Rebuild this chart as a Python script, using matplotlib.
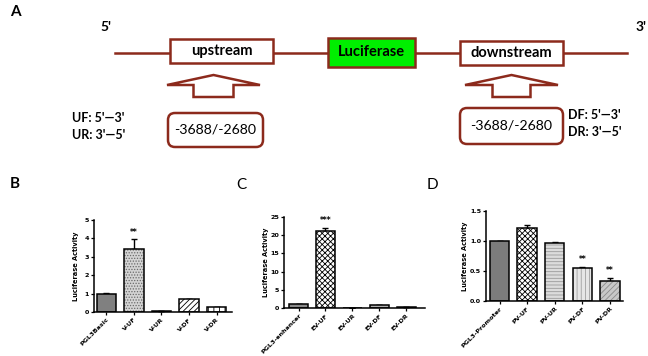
import matplotlib
matplotlib.use("Agg")
import matplotlib.pyplot as plt
from matplotlib.patches import Rectangle, FancyBboxPatch, Polygon

# bar chart data
b_labels = ["PGL3Basic", "V-UF", "V-UR", "V-DF", "V-DR"]
b_values = [1.0, 3.45, 0.05, 0.7, 0.25]
b_errors = [0.02, 0.5, 0.0, 0.03, 0.02]

c_labels = ["PGL3-enhancer", "EV-UF", "EV-UR", "EV-DF", "EV-DR"]
c_values = [1.0, 21.2, 0.1, 0.7, 0.3]
c_errors = [0.1, 0.8, 0.0, 0.05, 0.05]

d_labels = ["PGL3-Promoter", "PV-UF", "PV-UR", "PV-DF", "PV-DR"]
d_values = [1.0, 1.21, 0.96, 0.55, 0.34]
d_errors = [0.0, 0.06, 0.02, 0.015, 0.04]

RED = "#8c2a1c"
FIG_W, FIG_H = 648, 356

plt.rcParams["hatch.linewidth"] = 0.6
fig = plt.figure(figsize=(6.48, 3.56), dpi=100)

# Panel A: construct diagram, drawn in pixel coordinates
ax0 = fig.add_axes([0, 0, 1, 1])
ax0.set_xlim(0, FIG_W)
ax0.set_ylim(FIG_H, 0)
ax0.axis("off")

font_a = ["Lato", "DejaVu Sans"]

ax0.plot([115, 627], [52.5, 52.5], color=RED, lw=1.8, zorder=1)
ax0.add_patch(Rectangle((170, 39), 103, 24, fc="white", ec=RED, lw=1.8, zorder=2))
ax0.add_patch(Rectangle((328, 38), 87, 29, fc="#00ee00", ec=RED, lw=1.8, zorder=2))
ax0.add_patch(Rectangle((460, 41), 103, 24, fc="white", ec=RED, lw=1.8, zorder=2))
ax0.text(221.5, 51.5, "upstream", ha="center", va="center", fontsize=10.5,
         fontweight="bold", family=font_a)
ax0.text(371.5, 52.5, "Luciferase", ha="center", va="center", fontsize=10.5,
         fontweight="bold", family=font_a)
ax0.text(511.5, 53, "downstream", ha="center", va="center", fontsize=10.5,
         fontweight="bold", family=font_a)

for cx, hw in [(213.5, 20), (511.5, 19)]:
    pts = [(cx - 46.5, 85), (cx, 75), (cx + 46.5, 85), (cx + hw, 85),
           (cx + hw, 97), (cx - hw, 97), (cx - hw, 85)]
    ax0.add_patch(Polygon(pts, closed=True, fc="white", ec=RED, lw=1.8))

for x0, y0, w, h in [(168, 113, 95, 34), (460, 108, 103, 36)]:
    ax0.add_patch(FancyBboxPatch((x0, y0), w, h,
                                 boxstyle="round,pad=0,rounding_size=7",
                                 fc="white", ec=RED, lw=1.8))
    ax0.text(x0 + w / 2, y0 + h / 2, "-3688/-2680", ha="center", va="center",
             fontsize=10.2, family=font_a)

ax0.text(72, 118, "UF: 5'\u20143'", ha="left", va="center", fontsize=9,
         fontweight="bold", family=font_a)
ax0.text(72, 135, "UR: 3'\u20145'", ha="left", va="center", fontsize=9,
         fontweight="bold", family=font_a)
ax0.text(568, 115, "DF: 5'\u20143'", ha="left", va="center", fontsize=9,
         fontweight="bold", family=font_a)
ax0.text(568, 132, "DR: 3'\u20145'", ha="left", va="center", fontsize=9,
         fontweight="bold", family=font_a)
ax0.text(106, 27, "5'", ha="center", va="center", fontsize=10,
         fontweight="bold", family=font_a)
ax0.text(641, 27, "3'", ha="center", va="center", fontsize=10,
         fontweight="bold", family=font_a)

ax0.text(10, 12, "A", ha="left", va="center", fontsize=11, fontweight="bold", family=font_a)
ax0.text(10, 184, "B", ha="left", va="center", fontsize=11, fontweight="bold", family=font_a)
ax0.text(236, 185, "C", ha="left", va="center", fontsize=11, family=font_a)
ax0.text(427, 185, "D", ha="left", va="center", fontsize=11, family=font_a)


def px_axes(left, right, top, bottom):
    return fig.add_axes([left / FIG_W, 1 - bottom / FIG_H,
                         (right - left) / FIG_W, (bottom - top) / FIG_H])


def bar_panel(ax, labels, values, errors, styles, ymax, yticks, ylabel_x,
              xlim, stars):
    x = list(range(len(values)))
    for i, (fc, hc, hatch) in enumerate(styles):
        ax.bar(x[i], values[i], width=0.7, color=fc, edgecolor=hc, lw=0,
               hatch=hatch, zorder=2)
    ax.bar(x, values, width=0.7, facecolor="none", edgecolor="black",
           lw=1.1, zorder=3)
    ax.errorbar(x, values, yerr=[[0] * len(errors), errors], fmt="none",
                ecolor="black", elinewidth=1.0, capsize=2.2, capthick=1.0,
                zorder=1)
    for i, s in stars.items():
        ax.text(x[i], values[i] + errors[i] + ymax * 0.03, s, ha="center",
                va="bottom", fontsize=5.5, fontweight="bold")
    ax.set_xlim(*xlim)
    ax.set_ylim(0, ymax)
    ax.set_yticks(yticks)
    ax.set_xticks(x)
    ax.set_xticklabels(labels, rotation=45, ha="right", rotation_mode="anchor",
                       fontsize=4.6, fontweight="bold")
    ax.tick_params(axis="both", length=2, width=0.9, pad=1.5,
                   labelsize=4.6)
    for t in ax.get_yticklabels():
        t.set_fontweight("bold")
    ax.set_ylabel("Luciferase Activity", fontsize=4.8, fontweight="bold")
    ax.yaxis.set_label_coords(ylabel_x, 0.5)
    ax.spines["top"].set_visible(False)
    ax.spines["right"].set_visible(False)
    ax.spines["left"].set_linewidth(1.1)
    ax.spines["bottom"].set_linewidth(1.1)
    ax.patch.set_alpha(0)


# Panel B
axb = px_axes(94, 232, 220, 312)
bar_panel(axb, b_labels, b_values, b_errors,
          [("#808080", "#808080", None), ("#d4d4d4", "#6a6a6a", "......"),
           ("white", "black", None), ("white", "black", "//////"),
           ("white", "black", "|||")],
          5, [0, 1, 2, 3, 4, 5], -0.11, (-0.45, 4.56), {1: "**"})

# Panel C
axc = px_axes(284, 425, 217, 308)
bar_panel(axc, c_labels, c_values, c_errors,
          [("#8a8a8a", "#8a8a8a", None), ("white", "black", "xxxxxx"),
           ("white", "black", None), ("#b0b0b0", "#b0b0b0", None),
           ("white", "black", None)],
          25, [0, 5, 10, 15, 20, 25], -0.105, (-0.54, 4.7), {1: "***"})

# Panel D
axd = px_axes(486, 623, 211, 301)
bar_panel(axd, d_labels, d_values, d_errors,
          [("#7c7c7c", "#7c7c7c", None), ("white", "black", "xxxxxx"),
           ("#dcdcdc", "#9a9a9a", "-----"), ("#e6e6e6", "#a0a0a0", "||||"),
           ("#c8c8c8", "#8a8a8a", "//////")],
          1.5, [0.0, 0.5, 1.0, 1.5], -0.13, (-0.49, 4.47), {3: "**", 4: "**"})
axd.yaxis.set_major_formatter(matplotlib.ticker.FormatStrFormatter("%.1f"))

fig.savefig("out.png", dpi=100)
